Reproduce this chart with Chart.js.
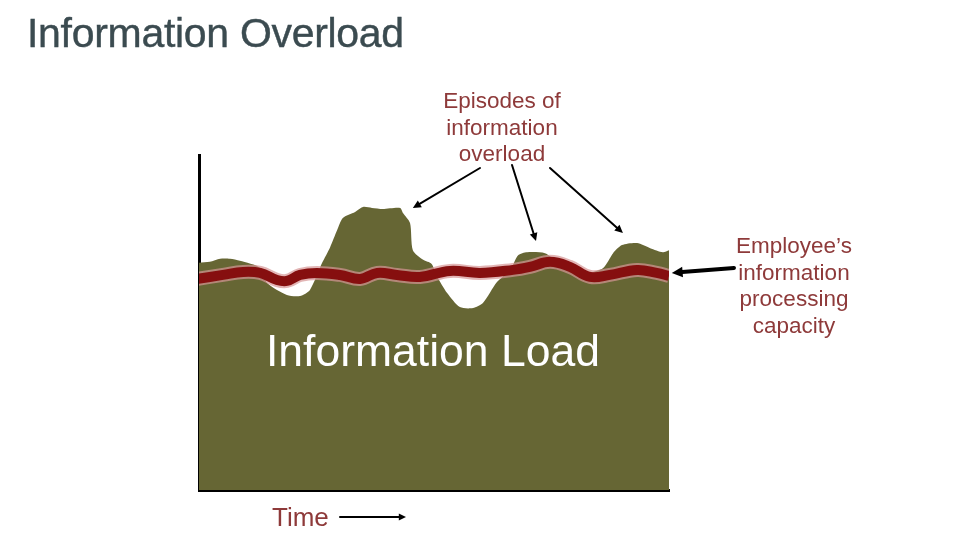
<!DOCTYPE html>
<html>
<head>
<meta charset="utf-8">
<script src="https://cdn.jsdelivr.net/npm/chart.js@4.4.0/dist/chart.umd.min.js"></script>
<style>
  html, body { margin: 0; padding: 0; background: #fff; }
  #wrap { position: relative; width: 960px; height: 540px; overflow: hidden; font-family: "Liberation Sans", Arial, sans-serif; }
  #chart { position: absolute; left: 0; top: 0; }
  .txt { position: absolute; white-space: nowrap; }
  #title { left: 27px; top: 10px; font-size: 41px; color: #3b4b50; letter-spacing: -0.3px; -webkit-text-stroke: 0.4px #3b4b50; }
  .note { color: #8e3a3a; font-size: 22.5px; line-height: 26.5px; text-align: center; }
  #episodes { left: 402px; top: 88px; width: 200px; }
  #capacity { left: 694px; top: 233px; width: 200px; }
  #time { left: 272px; top: 502px; font-size: 26px; color: #8e3a3a; }
  #load { left: 266px; top: 326px; font-size: 44.5px; color: #ffffff; }
</style>
</head>
<body>
<div id="wrap">
  <canvas id="chart" width="960" height="540"></canvas>
  <div class="txt" id="title">Information Overload</div>
  <div class="txt note" id="episodes">Episodes of<br>information<br>overload</div>
  <div class="txt note" id="capacity">Employee’s<br>information<br>processing<br>capacity</div>
  <div class="txt" id="time">Time</div>
  <div class="txt" id="load">Information Load</div>
</div>
<script>
// =============================================
// Information load vs. processing capacity
// =============================================

// time (0-100) and information load (0-100)
const loadTime = [0, 2.3, 4.5, 6.6, 8.7, 13.0, 14.5, 18.7, 21.5, 23.6, 26.2, 27.9, 29.4, 30.6, 33.2, 34.9, 36.8, 39.1, 42.8, 43.4, 44.9, 45.5, 47.7, 49.5, 50.6, 52.8, 55.5, 58.3, 60.4, 63.4, 66.2, 67.9, 69.8, 73.6, 76.2, 78.9, 82.6, 86.0, 88.1, 90.0, 93.2, 96.0, 98.7, 100];
const loadValues = [67.8, 68.1, 69.0, 69.0, 68.4, 66.3, 61.8, 58.2, 57.9, 59.7, 67.8, 72.5, 77.6, 81.2, 83.0, 84.5, 84.2, 83.9, 84.2, 82.7, 79.7, 71.6, 68.7, 67.5, 63.9, 58.8, 54.6, 54.3, 55.8, 62.1, 65.7, 70.1, 71.0, 70.7, 68.1, 65.7, 64.8, 66.3, 70.7, 73.1, 73.7, 72.2, 71.0, 71.6];

// employee's processing capacity
const capTime = [-0.5, 5.1, 9.4, 13.0, 16.6, 18.7, 21.5, 25.1, 30.0, 34.3, 37.9, 42.1, 47.0, 53.4, 59.8, 66.8, 70.4, 74.7, 78.9, 83.2, 87.4, 93.2, 97.4, 100];
const capValues = [63.0, 64.2, 65.1, 64.8, 62.7, 62.4, 64.2, 64.8, 64.2, 63.0, 64.8, 64.2, 63.6, 65.4, 64.8, 65.7, 66.6, 68.1, 66.6, 63.6, 64.2, 65.7, 64.8, 63.9];

// arrow tips for the "episodes" callout (time, load)
const episodeTips = [[45.5, 84.2], [71.7, 74.3], [90.2, 76.7]];
const episodeStarts = [[480, 168], [512, 165], [550, 168]];
const capacityTip = [100.6, 64.8];

const toPts = (xs, ys) => xs.map((x, i) => ({ x: x, y: ys[i] }));

function drawArrow(ctx, x1, y1, x2, y2, width, head) {
  const a = Math.atan2(y2 - y1, x2 - x1);
  ctx.save();
  ctx.strokeStyle = '#000';
  ctx.fillStyle = '#000';
  ctx.lineWidth = width;
  ctx.lineCap = 'round';
  ctx.beginPath();
  ctx.moveTo(x1, y1);
  ctx.lineTo(x2 - Math.cos(a) * head * 0.6, y2 - Math.sin(a) * head * 0.6);
  ctx.stroke();
  ctx.beginPath();
  ctx.moveTo(x2, y2);
  ctx.lineTo(x2 - head * Math.cos(a - 0.45), y2 - head * Math.sin(a - 0.45));
  ctx.lineTo(x2 - head * Math.cos(a + 0.45), y2 - head * Math.sin(a + 0.45));
  ctx.closePath();
  ctx.fill();
  ctx.restore();
}

const arrowPlugin = {
  id: 'arrows',
  afterDraw(chart) {
    const ctx = chart.ctx;
    const xs = chart.scales.x, ys = chart.scales.y;
    episodeTips.forEach((t, i) => {
      const s = episodeStarts[i];
      drawArrow(ctx, s[0], s[1], xs.getPixelForValue(t[0]), ys.getPixelForValue(t[1]), 2, 9);
    });
    drawArrow(ctx, 734, 268, xs.getPixelForValue(capacityTip[0]), ys.getPixelForValue(capacityTip[1]), 4, 12);
    // time arrow under the axis
    drawArrow(ctx, 340, 517, 406, 517, 2, 8);
  }
};

new Chart(document.getElementById('chart'), {
  type: 'line',
  data: {
    datasets: [
      {
        data: toPts(capTime, capValues),
        borderColor: '#860f0f',
        borderWidth: 10,
        tension: 0.4,
        pointRadius: 0,
        fill: false,
        order: 1
      },
      {
        data: toPts(capTime, capValues),
        borderColor: 'rgba(214,150,150,0.7)',
        borderWidth: 14,
        tension: 0.4,
        pointRadius: 0,
        fill: false,
        order: 2
      },
      {
        data: toPts(loadTime, loadValues),
        borderWidth: 0,
        borderColor: 'rgba(0,0,0,0)',
        backgroundColor: '#666634',
        tension: 0.25,
        pointRadius: 0,
        fill: 'origin',
        order: 3
      }
    ]
  },
  options: {
    responsive: false,
    animation: false,
    layout: { padding: { left: 191, right: 291, top: 155, bottom: 42 } },
    plugins: { legend: { display: false }, tooltip: { enabled: false } },
    scales: {
      x: {
        type: 'linear', min: 0, max: 100,
        ticks: { display: false },
        grid: { display: false },
        border: { display: true, color: '#000', width: 3 }
      },
      y: {
        min: 0, max: 100,
        ticks: { display: false },
        grid: { display: false },
        border: { display: true, color: '#000', width: 3 }
      }
    }
  },
  plugins: [arrowPlugin]
});
</script>
</body>
</html>
